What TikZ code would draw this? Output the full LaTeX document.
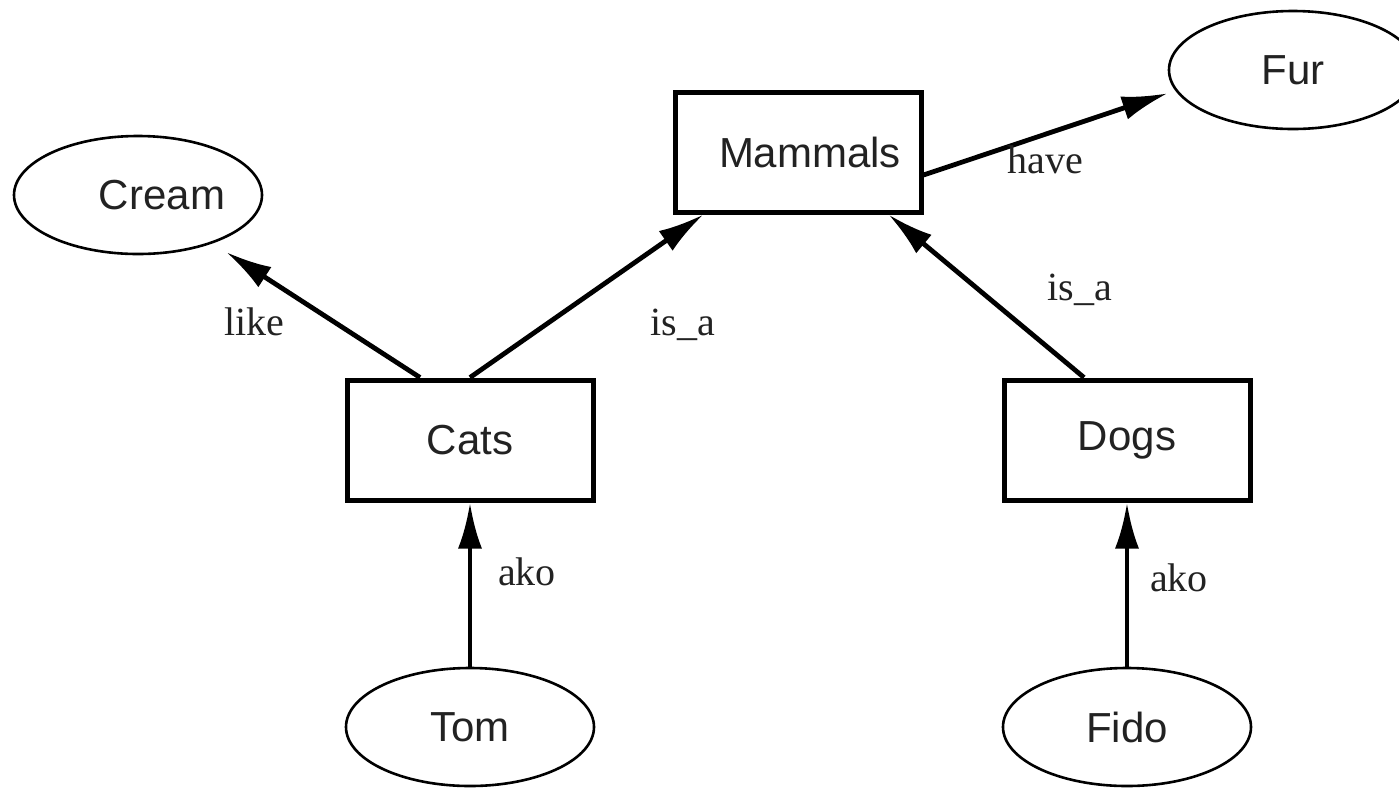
\documentclass[tikz,border=0pt]{standalone}
\usepackage{fontspec}
\setmainfont{Liberation Serif}
\setsansfont{Liberation Sans}
\usetikzlibrary{arrows.meta,shapes.geometric}
\definecolor{ink}{HTML}{222222}

\tikzset{
  concept/.style={draw,line width=2.5pt,minimum width=123pt,minimum height=60pt,
                  inner sep=0pt,text=ink,font=\sffamily\fontsize{21}{25}\selectfont},
  instance/.style={ellipse,draw,line width=1.3pt,minimum width=124pt,minimum height=59pt,
                   inner sep=0pt,text=ink,font=\sffamily\fontsize{21}{25}\selectfont},
  link/.style={-{Latex[length=23pt,width=12pt]},line width=2.4pt},
  rel/.style={text=ink,font=\fontsize{20}{24}\selectfont}
}

\begin{document}
\begin{tikzpicture}[x=0.5pt,y=-0.5pt]
  \useasboundingbox (0,0) rectangle (1399,789);

  % classes
  \node[concept] (mammals) at (798,152) {\hspace*{12pt}Mammals};
  \node[concept] (cats) at (470,440) {Cats};
  \node[concept] (dogs) at (1127,440) {Dogs};

  % properties and individuals
  \node[instance] (cream) at (138,195) {\hspace*{24pt}Cream};
  \node[instance] (fur) at (1293,70) {Fur};
  \node[instance] (tom) at (470,727) {Tom};
  \node[instance] (fido) at (1127,727) {Fido};

  % relations
  \draw[link,shorten >=8pt] ([xshift=-25pt]cats.north) -- (cream);
  \draw[link] (cats.north) -- ([xshift=15.5pt]mammals.south west);
  \draw[link] ([xshift=-21.5pt]dogs.north) -- ([xshift=-17.5pt]mammals.south east);
  \draw[link,shorten >=4pt] ([yshift=-11.5pt]mammals.east) -- (fur.190);
  \draw[link] (tom) -- (cats);
  \draw[link] (fido) -- (dogs);

  \node[rel] at (254,322) {like};
  \node[rel] at (683,325) {is\_a};
  \node[rel] at (1080,290) {is\_a};
  \node[rel] at (1045,160) {have};
  \node[rel] at (527,572) {ako};
  \node[rel] at (1179,578) {ako};
\end{tikzpicture}
\end{document}
